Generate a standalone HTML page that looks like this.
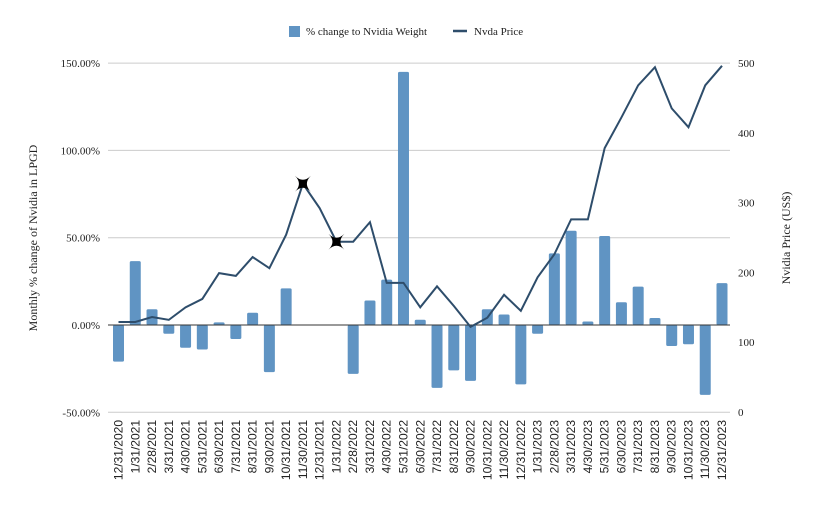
<!DOCTYPE html>
<html><head><meta charset="utf-8"><style>
body{margin:0;background:#fff;}
svg text{font-family:"Liberation Serif",serif;fill:#222;}
svg text.xl{font-family:"Liberation Sans",sans-serif;fill:#222;}
</style></head><body>
<svg id="chart" width="818" height="507" xmlns="http://www.w3.org/2000/svg"></svg>
<script>
const categories=["12/31/2020","1/31/2021","2/28/2021","3/31/2021","4/30/2021","5/31/2021","6/30/2021","7/31/2021","8/31/2021","9/30/2021","10/31/2021","11/30/2021","12/31/2021","1/31/2022","2/28/2022","3/31/2022","4/30/2022","5/31/2022","6/30/2022","7/31/2022","8/31/2022","9/30/2022","10/31/2022","11/30/2022","12/31/2022","1/31/2023","2/28/2023","3/31/2023","4/30/2023","5/31/2023","6/30/2023","7/31/2023","8/31/2023","9/30/2023","10/31/2023","11/30/2023","12/31/2023"];
const weightChange=[-21,36.6,9,-5,-13,-14,1.5,-8,7,-27,21,0,0,0,-28,14,26,145,3,-36,-26,-32,9,6,-34,-5,41,54,2,51,13,22,4,-12,-11,-40,24];
const price=[129,129,136,132,150,162,199,195,222,206,254,327,292,244,244,272,185,185,150,180,152,122,135,168,145,193,226,276,276,378,422,468,494,435,408,468,496];
const markerIdx=[11,13];
const leftTicks=[-50,0,50,100,150];
const leftTickLabels=["-50.00%","0.00%","50.00%","100.00%","150.00%"];
const rightTicks=[0,100,200,300,400,500];

const svg=document.getElementById('chart');
const NS="http://www.w3.org/2000/svg";
function mk(t,a,txt){const e=document.createElementNS(NS,t);for(const k in a)e.setAttribute(k,a[k]);if(txt!=null)e.textContent=txt;svg.appendChild(e);return e;}
const x=i=>118.5+i*(603.5/36);
const yL=v=>325-v*1.746;
const yR=v=>412-v*0.698;

leftTicks.forEach((t,i)=>{
  if(t>0||t<0){const g=mk('line',{x1:108,x2:730,y1:yL(t),y2:yL(t),stroke:'#ccc','stroke-width':1});
  
  }
  const l=mk('text',{x:100,y:yL(t)+4,'text-anchor':'end','font-size':11},leftTickLabels[i]);
  
  
});
rightTicks.forEach(t=>{
  const l=mk('text',{x:738,y:yR(t)+4,'font-size':11},String(t));
  
  
});
weightChange.forEach((v,i)=>{
  if(v===0)return;
  const y0=Math.min(yL(v),yL(0)),h=Math.abs(yL(v)-yL(0));
  const b=mk('rect',{x:x(i)-5.5,y:y0,width:11,height:h,rx:1.5,fill:'#6094c3'});
  
  
});
const z=mk('line',{x1:108,x2:730,y1:yL(0),y2:yL(0),stroke:'#333','stroke-width':1});


const ln=mk('polyline',{points:price.map((v,i)=>x(i)+','+yR(v)).join(' '),fill:'none',stroke:'#2e4d6b','stroke-width':2});


markerIdx.forEach(i=>{
  const cx=x(i),cy=yR(price[i]);
  const m=mk('path',{d:`M${cx-8},${cy-8} Q${cx},${cy} ${cx+8},${cy-8} Q${cx},${cy} ${cx+8},${cy+8} Q${cx},${cy} ${cx-8},${cy+8} Q${cx},${cy} ${cx-8},${cy-8}Z`,fill:'#000'});
  
  
});
categories.forEach((c,i)=>{
  const t=mk('text',{x:0,y:0,'font-size':12,'text-anchor':'end','class':'xl',transform:`translate(${x(i)+4},420) rotate(-90)`},c);
  
  
});
const yt=mk('text',{'font-size':12,'text-anchor':'middle',transform:'translate(37,238) rotate(-90)'},'Monthly % change of Nvidia in LPGD');


const yt2=mk('text',{'font-size':12,'text-anchor':'middle',transform:'translate(790,238) rotate(-90)'},'Nvidia Price (US$)');


const lb=mk('rect',{x:289,y:26,width:11,height:11,fill:'#6094c3'});


const lt=mk('text',{x:306,y:35,'font-size':11},'% change to Nvidia Weight');


const ll=mk('line',{x1:453,x2:467,y1:31,y2:31,stroke:'#2e4d6b','stroke-width':2.5});


const lt2=mk('text',{x:474,y:35,'font-size':11},'Nvda Price');


</script>
</body></html>
